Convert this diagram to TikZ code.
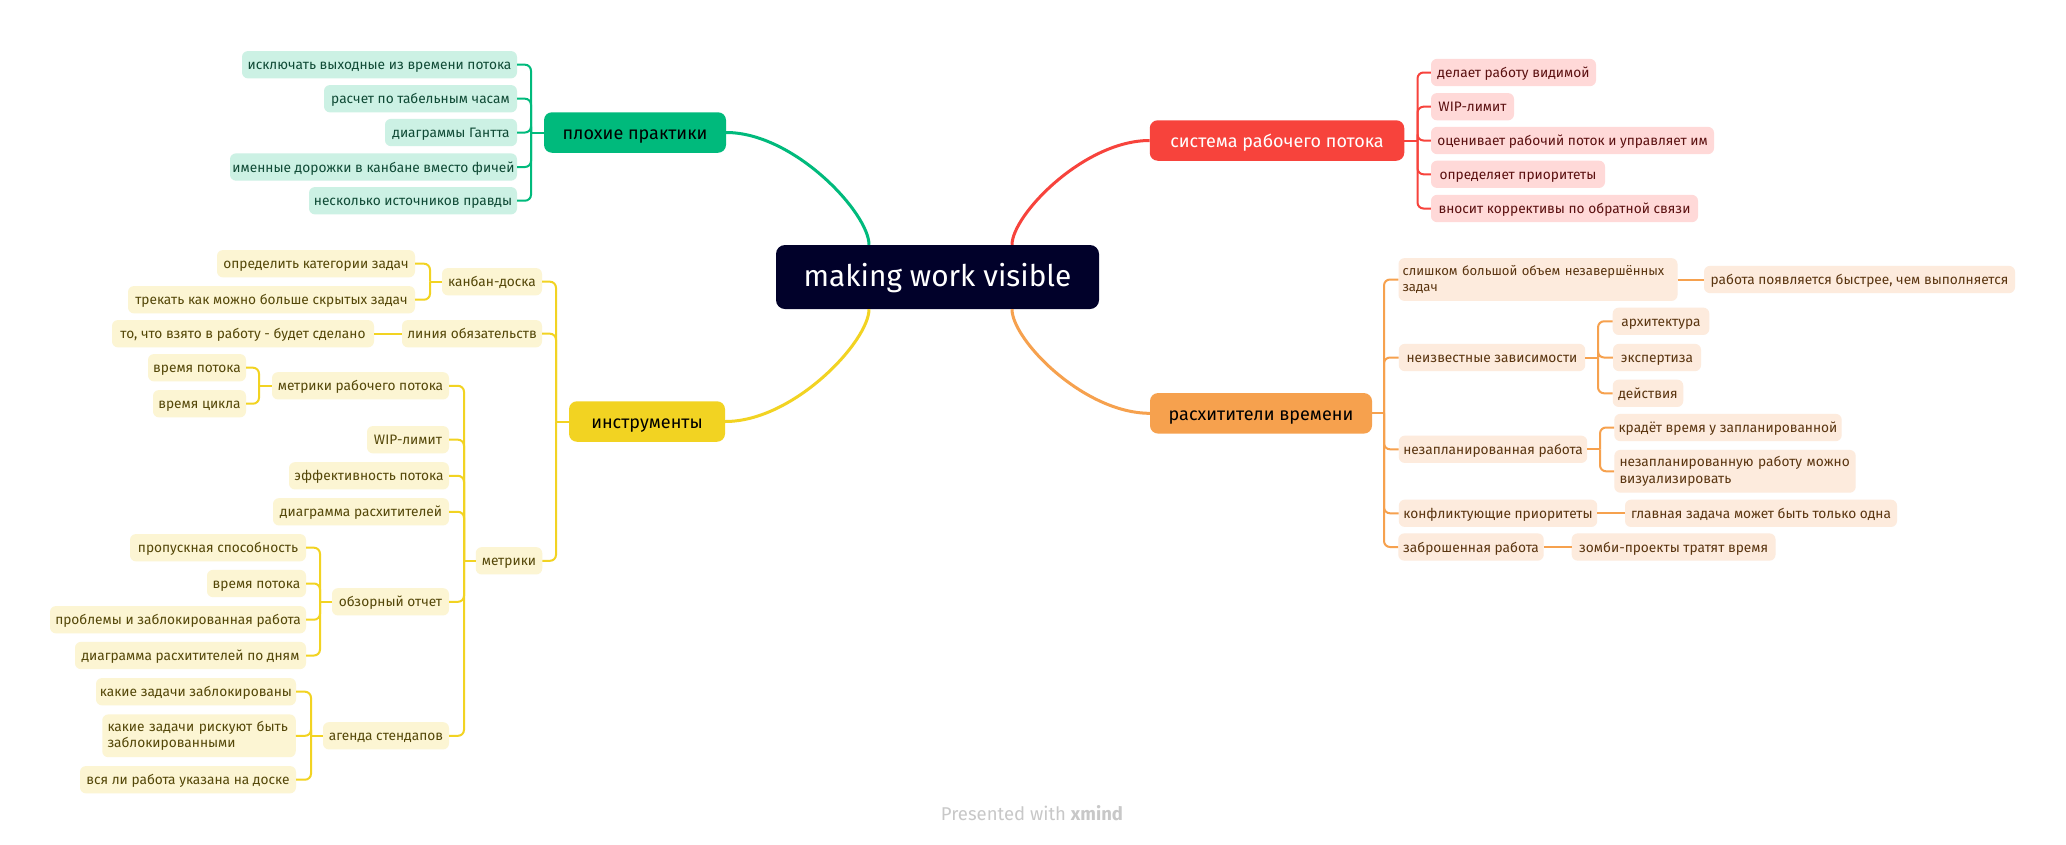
\documentclass[tikz,border=0pt]{standalone}
\usepackage{fontspec}
\setmainfont{Fira Sans}
\definecolor{gcol}{HTML}{00BA7C}
\definecolor{gfill}{HTML}{CCF1E4}
\definecolor{gtext}{HTML}{0F4A35}
\definecolor{rcol}{HTML}{F7433C}
\definecolor{rfill}{HTML}{FFD9D8}
\definecolor{rtext}{HTML}{5B1010}
\definecolor{ycol}{HTML}{F2D322}
\definecolor{yfill}{HTML}{FCF5D3}
\definecolor{ytext}{HTML}{544708}
\definecolor{ocol}{HTML}{F6A14E}
\definecolor{ofill}{HTML}{FDEBDD}
\definecolor{otext}{HTML}{5A3510}
\definecolor{ccol}{HTML}{01012A}
\definecolor{pgray}{HTML}{C8C8C8}
\tikzset{
  base/.style={rounded corners=6pt, inner sep=0pt, minimum height=27.3pt,
    font=\fontsize{13.7}{16.3}\selectfont},
  one/.style={base, text height=12pt, text depth=2pt},
  two/.style={base, minimum height=42.8pt, align=left, text width=#1},
  gchild/.style={one, fill=gfill, text=gtext},
  rchild/.style={one, fill=rfill, text=rtext},
  ychild/.style={one, fill=yfill, text=ytext},
  ochild/.style={one, fill=ofill, text=otext},
  mainbox/.style={rounded corners=8pt, inner sep=0pt, minimum height=40.5pt,
    font=\fontsize{18}{22}\selectfont, text height=16pt, text depth=2pt},
  gl/.style={draw=gcol, line width=2pt, rounded corners=6pt},
  rl/.style={draw=rcol, line width=2pt, rounded corners=6pt},
  yl/.style={draw=ycol, line width=2pt, rounded corners=6pt},
  ol/.style={draw=ocol, line width=2pt, rounded corners=6pt},
  curve/.style={line width=3pt},
}
\begin{document}
\begin{tikzpicture}[x=1pt,y=-1pt]
\useasboundingbox (0,0) rectangle (2066,844);
\fill[white] (0,0) rectangle (2066,844);

% central
\node[rounded corners=9pt, fill=ccol, text=white, minimum width=323, minimum height=64,
  inner sep=0pt, font=\fontsize{29.8}{34}\selectfont, text height=21pt, text depth=3pt]
  (C) at (937.5,277) {making work visible};

% main topics
\node[mainbox, fill=gcol, text=black, minimum width=182] (G) at (635,132.5) {плохие практики};
\node[mainbox, fill=rcol, text=white, minimum width=254.5] (R) at (1277,140.5) {система рабочего потока};
\node[mainbox, fill=ocol, text=black, minimum width=222] (O) at (1261,413.3) {расхитители времени};
\node[mainbox, fill=ycol, text=black, minimum width=156] (Y) at (647,421.5) {инструменты};

% main curves
\draw[curve, draw=gcol] (G.east) .. controls (794,132.5) and (869,213) .. ([xshift=-68.5]C.north);
\draw[curve, draw=rcol] (R.west) .. controls (1084,140.5) and (1012,215) .. ([xshift=74.5]C.north);
\draw[curve, draw=ycol] (Y.east) .. controls (794,421.5) and (869,341) .. ([xshift=-68.5]C.south);
\draw[curve, draw=ocol] (O.west) .. controls (1084,413.3) and (1012,340) .. ([xshift=74.5]C.south);

% green children
\node[gchild, minimum width=275] (g1) at (379.5,64.7) {исключать выходные из времени потока};
\node[gchild, minimum width=193] (g2) at (420.5,98.7) {расчет по табельным часам};
\node[gchild, minimum width=132] (g3) at (451,132.5) {диаграммы Гантта};
\node[gchild, minimum width=287] (g4) at (373.5,167) {именные дорожки в канбане вместо фичей};
\node[gchild, minimum width=208] (g5) at (413,200.7) {несколько источников правды};
\coordinate (gJ) at (531,132.5);
\draw[gl] (G.west) -- (gJ);
\foreach \c in {g1,g2,g3,g4,g5} \draw[gl] (gJ) |- (\c.east);

% red children
\node[rchild, minimum width=165] (r1) at (1513.5,72.5) {делает работу видимой};
\node[rchild, minimum width=83] (r2) at (1472.5,106.7) {WIP-лимит};
\node[rchild, minimum width=283] (r3) at (1572.5,140.5) {оценивает рабочий поток и управляет им};
\node[rchild, minimum width=174] (r4) at (1518,174.3) {определяет приоритеты};
\node[rchild, minimum width=267] (r5) at (1564.5,208.5) {вносит коррективы по обратной связи};
\coordinate (rJ) at (1417.5,140.5);
\draw[rl] (R.east) -- (rJ);
\foreach \c in {r1,r2,r3,r4,r5} \draw[rl] (rJ) |- (\c.west);

% orange children
\node[two=271pt, fill=ofill, text=otext, minimum width=279, font=\fontsize{13.1}{16.3}\selectfont] (o1) at (1538,279.5) {слишком большой объем незавершённых\\задач};
\node[ochild, minimum width=311] (o1a) at (1859.5,279.5) {работа появляется быстрее, чем выполняется};
\node[ochild, minimum width=186.4] (o2) at (1492,357.5) {неизвестные зависимости};
\node[ochild, minimum width=96.6] (o2a) at (1661,321.3) {архитектура};
\node[ochild, minimum width=88] (o2b) at (1657,357.5) {экспертиза};
\node[ochild, minimum width=70.5] (o2c) at (1648,393.3) {действия};
\node[ochild, minimum width=188.4] (o3) at (1493,449.3) {незапланированная работа};
\node[ochild, minimum width=227.4] (o3a) at (1728,427.5) {крадёт время у запланированной};
\node[two=231pt, fill=ofill, text=otext, minimum width=241.4] (o3b) at (1735,471.3) {незапланированную работу можно\\визуализировать};
\node[ochild, minimum width=198.4] (o4) at (1498,513.3) {конфликтующие приоритеты};
\node[ochild, minimum width=272] (o4a) at (1761,513.3) {главная задача может быть только одна};
\node[ochild, minimum width=145.4] (o5) at (1471,547) {заброшенная работа};
\node[ochild, minimum width=203.8] (o5a) at (1673.6,547) {зомби-проекты тратят время};
\coordinate (oJ) at (1384,413.3);
\draw[ol] (O.east) -- (oJ);
\foreach \c in {o1,o2,o3,o4,o5} \draw[ol] (oJ) |- (\c.west);
\draw[ol] (o1.east) -- (o1a.west);
\coordinate (o2J) at (1598,357.5);
\draw[ol] (o2.east) -- (o2J);
\foreach \c in {o2a,o2b,o2c} \draw[ol] (o2J) |- (\c.west);
\coordinate (o3J) at (1600,449.3);
\draw[ol] (o3.east) -- (o3J);
\foreach \c in {o3a,o3b} \draw[ol] (o3J) |- (\c.west);
\draw[ol] (o4.east) -- (o4a.west);
\draw[ol] (o5.east) -- (o5a.west);

% yellow children
\node[ychild, minimum width=100] (y1) at (492,281.7) {канбан-доска};
\node[ychild, minimum width=198] (y1a) at (316,263.7) {определить категории задач};
\node[ychild, minimum width=287] (y1b) at (271.5,299.7) {трекать как можно больше скрытых задач};
\node[ychild, minimum width=140] (y2) at (472,333.7) {линия обязательств};
\node[ychild, minimum width=262] (y2a) at (243,333.7) {то, что взято в работу - будет сделано};
\node[ychild, minimum width=66.5] (y3) at (509,560.8) {метрики};
\node[ychild, minimum width=177] (y3a) at (360.5,385.8) {метрики рабочего потока};
\node[ychild, minimum width=98] (y3a1) at (197,367.7) {время потока};
\node[ychild, minimum width=93] (y3a2) at (199.5,403.7) {время цикла};
\node[ychild, minimum width=82] (y3b) at (408,439.7) {WIP-лимит};
\node[ychild, minimum width=160] (y3c) at (369,475.8) {эффективность потока};
\node[ychild, minimum width=176] (y3d) at (361,511.8) {диаграмма расхитителей};
\node[ychild, minimum width=117] (y3e) at (390.5,601.8) {обзорный отчет};
\node[ychild, minimum width=176] (y3e1) at (218,547.7) {пропускная способность};
\node[ychild, minimum width=99] (y3e2) at (256.5,583.5) {время потока};
\node[ychild, minimum width=256] (y3e3) at (178,619.7) {проблемы и заблокированная работа};
\node[ychild, minimum width=231] (y3e4) at (190.5,655.5) {диаграмма расхитителей по дням};
\node[ychild, minimum width=126] (y3f) at (386,735.8) {агенда стендапов};
\node[ychild, minimum width=200] (y3f1) at (196,691.7) {какие задачи заблокированы};
\node[two=183pt, fill=yfill, text=ytext, minimum width=193.5] (y3f2) at (199,735.8) {какие задачи рискуют быть\\заблокированными};
\node[ychild, minimum width=216] (y3f3) at (188,779.7) {вся ли работа указана на доске};

\coordinate (yJ) at (556,421.5);
\draw[yl] (Y.west) -- (yJ);
\foreach \c in {y1,y2,y3} \draw[yl] (yJ) |- (\c.east);
\coordinate (y1J) at (430,281.7);
\draw[yl] (y1.west) -- (y1J);
\foreach \c in {y1a,y1b} \draw[yl] (y1J) |- (\c.east);
\draw[yl] (y2.west) -- (y2a.east);
\coordinate (y3J) at (464,560.8);
\draw[yl] (y3.west) -- (y3J);
\foreach \c in {y3a,y3b,y3c,y3d,y3e,y3f} \draw[yl] (y3J) |- (\c.east);
\coordinate (y3aJ) at (259,385.8);
\draw[yl] (y3a.west) -- (y3aJ);
\foreach \c in {y3a1,y3a2} \draw[yl] (y3aJ) |- (\c.east);
\coordinate (y3eJ) at (320,601.8);
\draw[yl] (y3e.west) -- (y3eJ);
\foreach \c in {y3e1,y3e2,y3e3,y3e4} \draw[yl] (y3eJ) |- (\c.east);
\coordinate (y3fJ) at (311,735.8);
\draw[yl] (y3f.west) -- (y3fJ);
\foreach \c in {y3f1,y3f2,y3f3} \draw[yl] (y3fJ) |- (\c.east);

% footer
\node[text=pgray, font=\fontsize{18.5}{20}\selectfont, inner sep=0pt] (pw) at (1032,812.7)
  {Presented with \textbf{xmind}};
\end{tikzpicture}
\end{document}
